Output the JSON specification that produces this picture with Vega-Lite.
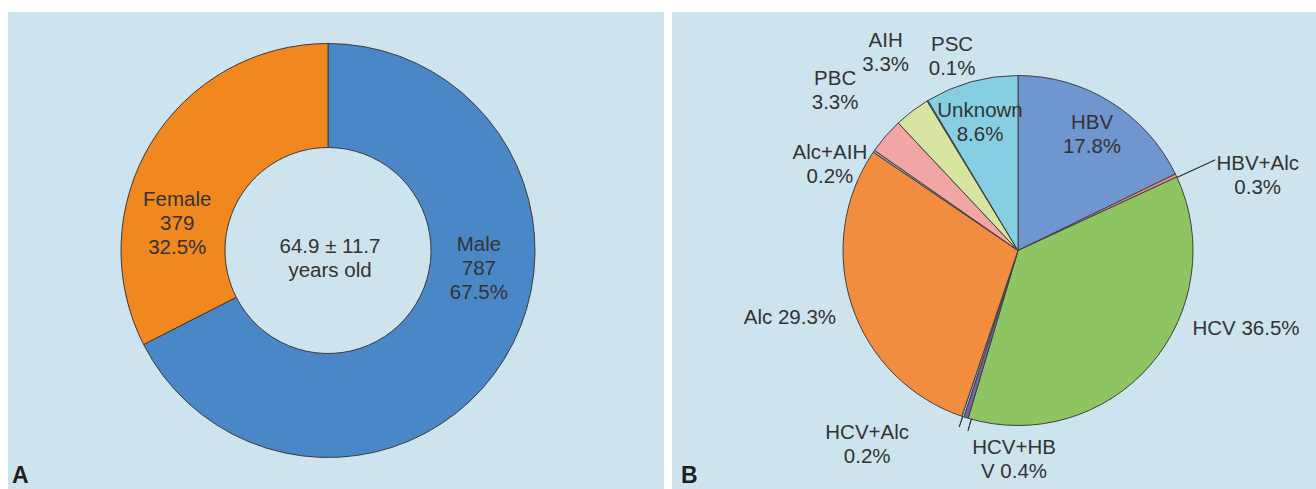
{
  "$schema": "https://vega.github.io/schema/vega-lite/v6.json",
  "background": "#ffffff",
  "padding": {"left": 8, "top": 12, "right": 0, "bottom": 0},
  "config": {
    "view": {"fill": "#cde4ef", "fillOpacity": 1, "stroke": "#cde4ef", "strokeWidth": 0},
    "text": {"font": "Liberation Sans", "fontSize": 20.5, "fill": "#333333", "lineHeight": 24, "lineBreak": "\n", "baseline": "middle", "align": "center"},
    "title": {"font": "Liberation Sans", "fontSize": 23, "fontWeight": "bold", "color": "#1e1e1e"}
  },
  "spacing": 8,
  "resolve": {"scale": {"color": "independent", "theta": "independent"}},
  "hconcat": [
    {
      "spacing": 0,
      "resolve": {"scale": {"color": "independent", "theta": "independent"}},
      "hconcat": [
        {
          "width": 640,
          "height": 477,
          "view": {"fill": "#cde4ef", "stroke": "#cde4ef", "strokeWidth": 0},
          "title": {"text": "A", "orient": "bottom", "anchor": "start", "offset": -24, "dx": 4},
          "data": {"values": [
            {"k": "Male", "n": 787, "i": 1, "label": "Male\n787\n67.5%"},
            {"k": "Female", "n": 379, "i": 2, "label": "Female\n379\n32.5%"}
          ]},
          "layer": [
            {
              "mark": {"type": "arc", "outerRadius": 207, "innerRadius": 103, "stroke": "#3a3a3a", "strokeWidth": 1},
              "encoding": {
                "theta": {"field": "n", "type": "quantitative", "stack": true},
                "order": {"field": "i", "type": "quantitative"},
                "color": {"field": "k", "type": "nominal", "scale": {"domain": ["Male", "Female"], "range": ["#4a87c6", "#f0871f"]}, "legend": null}
              }
            },
            {
              "transform": [{"filter": "datum.k == 'Female'"}],
              "mark": {"type": "text", "theta": 5.035, "radius": 159},
              "encoding": {"text": {"field": "label"}}
            },
            {
              "transform": [{"filter": "datum.k == 'Male'"}],
              "mark": {"type": "text", "theta": 1.534, "radius": 151},
              "encoding": {"text": {"field": "label"}}
            },
            {
              "data": {"values": [{"t": "64.9 ± 11.7\nyears old"}]},
              "mark": {"type": "text", "dx": 2, "dy": -3.5},
              "encoding": {"text": {"field": "t"}}
            }
          ]
        },
        {
          "width": 16,
          "height": 477,
          "view": {"fill": "#cde4ef", "stroke": "#cde4ef", "strokeWidth": 0},
          "data": {"values": []},
          "mark": "point"
        }
      ]
    },
    {
      "spacing": 0,
      "resolve": {"scale": {"color": "independent", "theta": "independent"}},
      "hconcat": [
        {
          "width": 48,
          "height": 477,
          "view": {"fill": "#cde4ef", "stroke": "#cde4ef", "strokeWidth": 0},
          "title": {"text": "B", "orient": "bottom", "anchor": "start", "offset": -24, "dx": 9},
          "data": {"values": []},
          "mark": "point"
        },
        {
          "width": 596,
          "height": 477,
          "view": {"fill": "#cde4ef", "stroke": "#cde4ef", "strokeWidth": 0},
          "data": {"values": [
            {"k": "HBV", "v": 17.8, "i": 1, "label": "HBV\n17.8%"},
            {"k": "HBV+Alc", "v": 0.3, "i": 2, "label": "HBV+Alc\n0.3%"},
            {"k": "HCV", "v": 36.5, "i": 3, "label": "HCV 36.5%"},
            {"k": "HCV+HBV", "v": 0.4, "i": 4, "label": "HCV+HB\nV 0.4%"},
            {"k": "HCV+Alc", "v": 0.2, "i": 5, "label": "HCV+Alc\n0.2%"},
            {"k": "Alc", "v": 29.3, "i": 6, "label": "Alc 29.3%"},
            {"k": "Alc+AIH", "v": 0.2, "i": 7, "label": "Alc+AIH\n0.2%"},
            {"k": "PBC", "v": 3.3, "i": 8, "label": "PBC\n3.3%"},
            {"k": "AIH", "v": 3.3, "i": 9, "label": "AIH\n3.3%"},
            {"k": "PSC", "v": 0.1, "i": 10, "label": "PSC\n0.1%"},
            {"k": "Unknown", "v": 8.6, "i": 11, "label": "Unknown\n8.6%"}
          ]},
          "layer": [
            {
              "mark": {"type": "arc", "outerRadius": 175, "stroke": "#404040", "strokeWidth": 1},
              "encoding": {
                "theta": {"field": "v", "type": "quantitative", "stack": true},
                "order": {"field": "i", "type": "quantitative"},
                "color": {
                  "field": "k", "type": "nominal", "legend": null,
                  "scale": {
                    "domain": ["HBV", "HBV+Alc", "HCV", "HCV+HBV", "HCV+Alc", "Alc", "Alc+AIH", "PBC", "AIH", "PSC", "Unknown"],
                    "range": ["#7096cf", "#e8907c", "#8fc463", "#7563a8", "#92c9e6", "#f28d3f", "#9da5b3", "#f3a5a5", "#d8e5a1", "#6a7fb5", "#86cfe3"]
                  }
                }
              }
            },
            {
              "transform": [{"filter": "datum.k == 'HBV+Alc'"}],
              "mark": {"type": "arc", "theta": 1.14, "theta2": 1.14, "innerRadius": 175, "outerRadius": 217, "filled": false, "color": "#3a3a3a", "strokeWidth": 1},
              "encoding": {}
            },
            {
              "transform": [{"filter": "datum.k == 'HCV+HBV'"}],
              "mark": {"type": "arc", "theta": 3.412, "theta2": 3.412, "innerRadius": 175, "outerRadius": 187, "filled": false, "color": "#3a3a3a", "strokeWidth": 1},
              "encoding": {}
            },
            {
              "transform": [{"filter": "datum.k == 'HCV+Alc'"}],
              "mark": {"type": "arc", "theta": 3.463, "theta2": 3.463, "innerRadius": 175, "outerRadius": 186, "filled": false, "color": "#3a3a3a", "strokeWidth": 1},
              "encoding": {}
            },
            {"transform": [{"filter": "datum.k == 'HBV'"}], "mark": {"type": "text", "theta": 0.5276, "radius": 147}, "encoding": {"text": {"field": "label"}}},
            {"transform": [{"filter": "datum.k == 'HBV+Alc'"}], "mark": {"type": "text", "theta": 1.2230, "radius": 255}, "encoding": {"text": {"field": "label"}}},
            {"transform": [{"filter": "datum.k == 'HCV'"}], "mark": {"type": "text", "theta": 1.901, "radius": 241}, "encoding": {"text": {"field": "label"}}},
            {"transform": [{"filter": "datum.k == 'HCV+HBV'"}], "mark": {"type": "text", "theta": 3.1618, "radius": 198}, "encoding": {"text": {"field": "label"}}},
            {"transform": [{"filter": "datum.k == 'HCV+Alc'"}], "mark": {"type": "text", "theta": 3.8315, "radius": 237}, "encoding": {"text": {"field": "label"}}},
            {"transform": [{"filter": "datum.k == 'Alc'"}], "mark": {"type": "text", "theta": 4.423, "radius": 238}, "encoding": {"text": {"field": "label"}}},
            {"transform": [{"filter": "datum.k == 'Alc+AIH'"}], "mark": {"type": "text", "theta": 5.1917, "radius": 212}, "encoding": {"text": {"field": "label"}}},
            {"transform": [{"filter": "datum.k == 'PBC'"}], "mark": {"type": "text", "theta": 5.4669, "radius": 251}, "encoding": {"text": {"field": "label"}}},
            {"transform": [{"filter": "datum.k == 'AIH'"}], "mark": {"type": "text", "theta": 5.7203, "radius": 248}, "encoding": {"text": {"field": "label"}}},
            {"transform": [{"filter": "datum.k == 'PSC'"}], "mark": {"type": "text", "theta": 5.9731, "radius": 216}, "encoding": {"text": {"field": "label"}}},
            {"transform": [{"filter": "datum.k == 'Unknown'"}], "mark": {"type": "text", "theta": 6.0181, "radius": 145}, "encoding": {"text": {"field": "label"}}}
          ]
        }
      ]
    }
  ]
}
